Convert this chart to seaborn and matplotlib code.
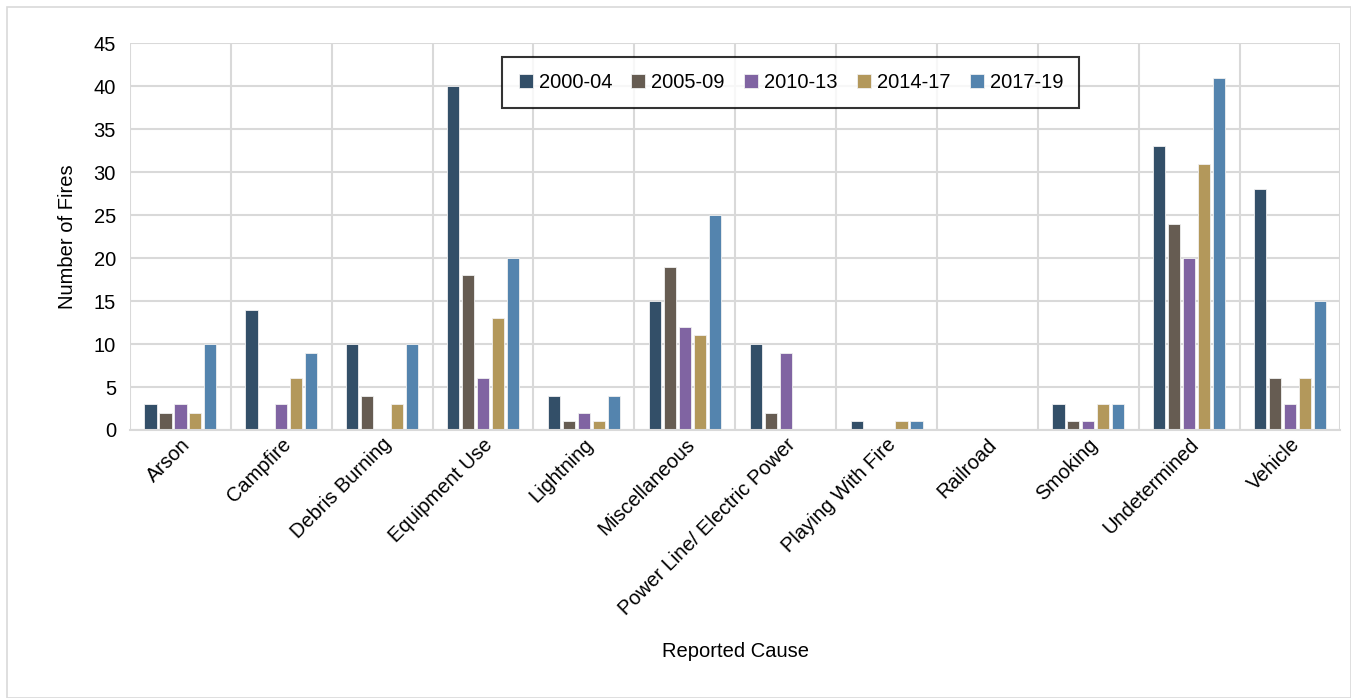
import pandas as pd
import matplotlib.pyplot as plt
import seaborn as sns
from matplotlib.patches import Rectangle

causes = ["Arson", "Campfire", "Debris Burning", "Equipment Use", "Lightning",
          "Miscellaneous", "Power Line/ Electric Power", "Playing With Fire",
          "Railroad", "Smoking", "Undetermined", "Vehicle"]
periods = ["2000-04", "2005-09", "2010-13", "2014-17", "2017-19"]

fires_2000_04 = [3, 14, 10, 40, 4, 15, 10, 1, 0, 3, 33, 28]
fires_2005_09 = [2, 0, 4, 18, 1, 19, 2, 0, 0, 1, 24, 6]
fires_2010_13 = [3, 3, 0, 6, 2, 12, 9, 0, 0, 1, 20, 3]
fires_2014_17 = [2, 6, 3, 13, 1, 11, 0, 1, 0, 3, 31, 6]
fires_2017_19 = [10, 9, 10, 20, 4, 25, 0, 1, 0, 3, 41, 15]

colors = ["#334F68", "#665C52", "#8064A2", "#B3985B", "#5484AE"]

series = [fires_2000_04, fires_2005_09, fires_2010_13, fires_2014_17, fires_2017_19]
rows = []
for period, vals in zip(periods, series):
    for cause, v in zip(causes, vals):
        rows.append({"Cause": cause, "Period": period, "Fires": v})
data = pd.DataFrame(rows)

sns.set_style("white")
plt.rcParams["font.family"] = ["Liberation Sans", "DejaVu Sans"]
plt.rcParams["text.color"] = "black"
plt.rcParams["axes.labelcolor"] = "black"
plt.rcParams["xtick.color"] = "black"
plt.rcParams["ytick.color"] = "black"

fig = plt.figure(figsize=(13.51, 6.98), dpi=100)
ax = fig.add_axes([0.0962, 0.384, 0.896, 0.554])

sns.barplot(data=data, x="Cause", y="Fires", hue="Period", order=causes,
            hue_order=periods, palette=colors, saturation=1, width=0.74,
            gap=0.18, edgecolor="#f0f0f0", linewidth=0.6, ax=ax)

ax.set_xlim(-0.5, len(causes) - 0.5)
ax.set_ylim(0, 45)
ax.set_yticks(range(0, 46, 5))
ax.set_xticks([i + 0.5 for i in range(-1, len(causes))], minor=True)
ax.grid(True, axis="y", color="#d9d9d9", linewidth=1.5)
ax.grid(True, axis="x", which="minor", color="#d9d9d9", linewidth=1.5)
ax.set_axisbelow(True)
for side in ["top", "right", "left"]:
    ax.spines[side].set_visible(False)
ax.spines["bottom"].set_color("#d9d9d9")
ax.spines["bottom"].set_linewidth(1.5)
ax.tick_params(axis="both", which="both", length=0, labelsize=14.5)
ax.tick_params(axis="y", pad=10)
plt.setp(ax.get_xticklabels(), rotation=45, ha="right", rotation_mode="anchor")

ax.set_xlabel("Reported Cause", fontsize=14.5, labelpad=17)
ax.set_ylabel("Number of Fires", fontsize=14.5, labelpad=12)

leg = ax.legend(loc="center", bbox_to_anchor=(0.546, 0.898), ncol=5,
                fontsize=14.5, frameon=True, fancybox=False, handlelength=0.7,
                handleheight=0.7, handletextpad=0.3, columnspacing=0.95,
                borderpad=0.8)
leg.get_frame().set_edgecolor("black")
leg.get_frame().set_linewidth(1.5)

fig.patches.append(Rectangle((0.005, 0.0), 0.995, 0.99, transform=fig.transFigure,
                             fill=False, edgecolor="#d9d9d9", linewidth=1.2))

plt.savefig("out.png", dpi=100)
